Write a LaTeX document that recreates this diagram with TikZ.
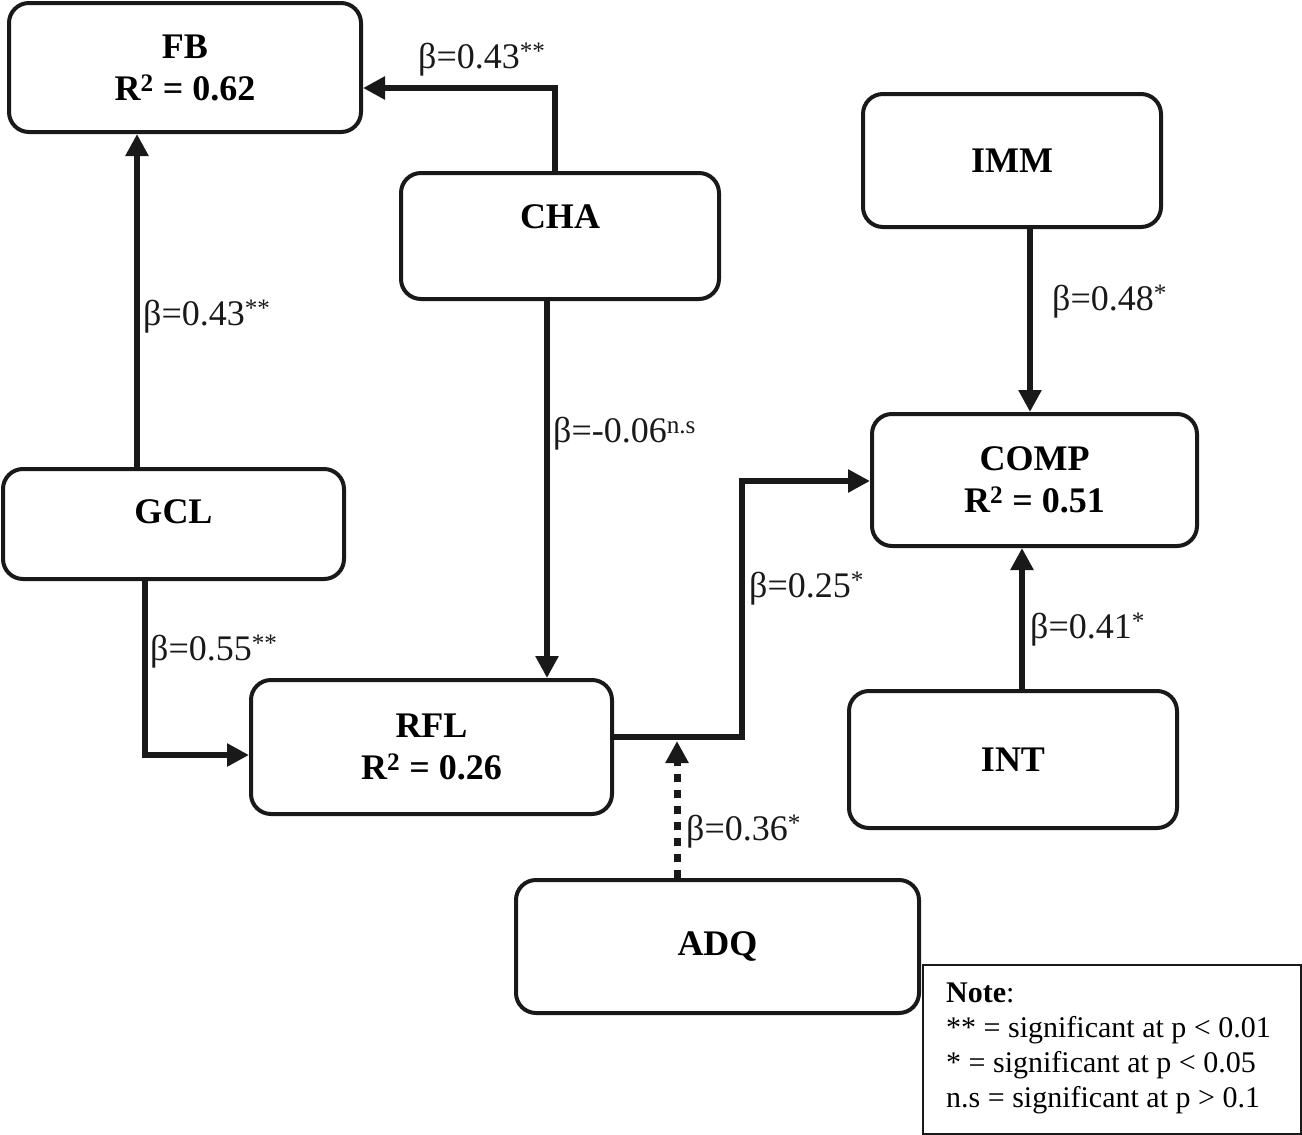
\documentclass[tikz,border=0pt]{standalone}
\usepackage{fontspec}
\setmainfont{Liberation Serif}
\usetikzlibrary{arrows.meta,calc}
\begin{document}
\begin{tikzpicture}[x=1pt,y=-1pt,
  box/.style={draw=black!90,line width=4pt,rounded corners=20pt,align=center,
    font=\fontsize{36}{42}\selectfont\bfseries,inner sep=0pt},
  arr/.style={draw=black!90,line width=6pt,-{Triangle[length=22pt,width=22pt]}},
  lab/.style={anchor=west,inner sep=0pt,font=\fontsize{36}{40}\selectfont,text=black!90},
  notetxt/.style={font=\fontsize{30}{35}\selectfont,align=left,anchor=north west,inner sep=0pt}]
\useasboundingbox (0,0) rectangle (1302,1135);
% boxes
\node[box,minimum width=352pt,minimum height=129pt] (FB) at (185,67.5) {FB\\R\textsuperscript{2} = 0.62};
\node[box,minimum width=318pt,minimum height=126pt,text depth=38pt] (CHA) at (560,236) {CHA};
\node[box,minimum width=298pt,minimum height=133pt] (IMM) at (1012,160.5) {IMM};
\node[box,minimum width=341pt,minimum height=110pt,text depth=24pt] (GCL) at (173.5,524) {GCL};
\node[box,minimum width=325pt,minimum height=132pt] (COMP) at (1034.5,480) {COMP\\R\textsuperscript{2} = 0.51};
\node[box,minimum width=361pt,minimum height=134pt] (RFL) at (431.5,747) {RFL\\R\textsuperscript{2} = 0.26};
\node[box,minimum width=328pt,minimum height=137pt] (INT) at (1013,759.5) {INT};
\node[box,minimum width=403pt,minimum height=133pt] (ADQ) at (717.5,946.5) {ADQ};
\node[draw=black!90,line width=1.5pt,minimum width=378pt,minimum height=169pt,inner sep=0pt] (NOTE) at (1112,1049.5) {};
\node[notetxt] (NT) at (946,983) {\textbf{Note}:\\** = significant at p < 0.01\\* = significant at p < 0.05\\n.s = significant at p > 0.1};
% coordinates
\coordinate (c1) at (555,88);
\coordinate (c2) at (137,0);
\coordinate (c3) at (547,0);
\coordinate (c4) at (145,755);
\coordinate (c5) at (742,737);
\coordinate (c6) at (742,481);
\coordinate (c7) at (1030,0);
\coordinate (c8) at (1022,0);
\coordinate (c9) at (677,0);
\coordinate (c10) at (677,741);
% connectors
\draw[arr] (CHA.north -| c1) -- (c1) -- (FB.east |- c1);
\draw[arr] (GCL.north -| c2) -- (FB.south -| c2);
\draw[arr] (CHA.south -| c3) -- (RFL.north -| c3);
\draw[arr] (GCL.south -| c4) -- (c4) -- (RFL.west |- c4);
\draw[arr] (RFL.east |- c5) -- (c5) -- (c6) -- (COMP.west |- c6);
\draw[arr] (IMM.south -| c7) -- (COMP.north -| c7);
\draw[arr] (INT.north -| c8) -- (COMP.south -| c8);
\draw[draw=black!90,line width=7pt,dash pattern=on 8pt off 8pt,-{Triangle[length=22pt,width=22pt]}] (ADQ.north -| c9) -- (c10);
% labels
\node[lab] (L1) at (418,60) {β=0.43\textsuperscript{**}};
\node[lab] (L2) at (143,317) {β=0.43\textsuperscript{**}};
\node[lab] (L3) at (553,434) {β=-0.06\textsuperscript{n.s}};
\node[lab] (L4) at (150,652) {β=0.55\textsuperscript{**}};
\node[lab] (L5) at (749,589) {β=0.25\textsuperscript{*}};
\node[lab] (L6) at (1052,302) {β=0.48\textsuperscript{*}};
\node[lab] (L7) at (1030,630) {β=0.41\textsuperscript{*}};
\node[lab] (L8) at (686,832) {β=0.36\textsuperscript{*}};
\end{tikzpicture}
\end{document}
